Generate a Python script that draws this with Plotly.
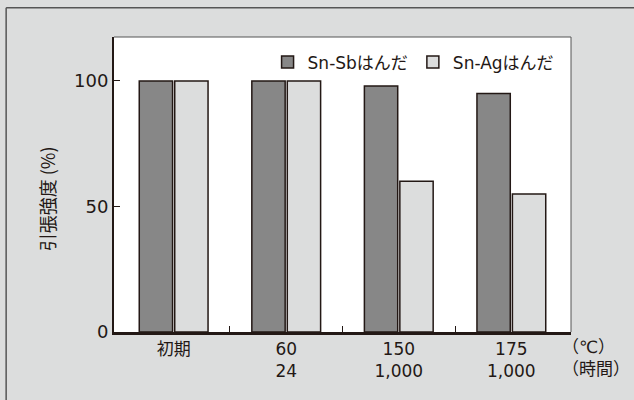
import plotly.graph_objects as go

# Test conditions: temperature (°C) / duration (hours)
categories = ["初期", "60<br>24", "150<br>1,000", "175<br>1,000"]
sn_sb = [100, 100, 98, 95]   # Sn-Sb solder, tensile strength retention (%)
sn_ag = [100, 100, 60, 55]   # Sn-Ag solder, tensile strength retention (%)
y_ticks = [0, 50, 100]

FONT = "'DejaVu Sans', 'Noto Sans CJK JP', sans-serif"
INK = "#231815"
x_pos = list(range(len(categories)))

fig = go.Figure()
fig.add_trace(go.Bar(
    x=x_pos, y=sn_sb, name="Sn-Sbはんだ",
    marker=dict(color="#878787", line=dict(color=INK, width=1.5)),
))
fig.add_trace(go.Bar(
    x=x_pos, y=sn_ag, name="Sn-Agはんだ",
    marker=dict(color="#dcdddd", line=dict(color=INK, width=1.5)),
))

fig.update_layout(
    width=634, height=400,
    margin=dict(l=114, r=63, t=37, b=68),
    paper_bgcolor="#dcdddd",
    plot_bgcolor="#ffffff",
    barmode="group", bargap=0.37, bargroupgap=0.06,
    font=dict(family=FONT, color=INK, size=17),
    showlegend=True,
    legend=dict(
        orientation="h", x=0.975, xanchor="right", y=0.975, yanchor="top",
        bgcolor="rgba(0,0,0,0)", font=dict(family=FONT, size=17, color=INK),
        itemwidth=30, tracegroupgap=0, itemclick=False,
    ),
    xaxis=dict(
        range=[-0.53, len(categories) - 0.47],
        tickmode="array", tickvals=x_pos, ticktext=categories,
        ticks="", showgrid=False, zeroline=False,
        showline=True, linecolor=INK, linewidth=2.6,
        tickfont=dict(family=FONT, size=17, color=INK),
        minor=dict(tickmode="array",
                   tickvals=[i + 0.5 for i in x_pos[:-1]],
                   ticks="inside", ticklen=6, tickcolor=INK, tickwidth=1,
                   showgrid=False),
    ),
    yaxis=dict(
        range=[0, 117.5],
        tickmode="array", tickvals=y_ticks,
        ticks="inside", ticklen=6, tickcolor=INK, tickwidth=1,
        showgrid=False, zeroline=False,
        showline=True, linecolor=INK, linewidth=2,
        tickfont=dict(family=FONT, size=18, color=INK),
    ),
)

# y-axis title, set a little below the middle of the axis
fig.add_annotation(
    text="引張強度 (%)", xref="paper", yref="paper",
    x=-0.1477, y=0.4515, xanchor="center", yanchor="middle",
    textangle=-90, showarrow=False,
    font=dict(family="'Noto Sans CJK JP'", size=18, color=INK),
)

# thin top/right border of the plotting area
fig.add_shape(type="line", xref="paper", yref="paper", x0=0, x1=1, y0=1, y1=1,
              line=dict(color="#555555", width=1), layer="above")
fig.add_shape(type="line", xref="paper", yref="paper", x0=1, x1=1, y0=0, y1=1,
              line=dict(color="#555555", width=1), layer="above")
# outer frame (left and top edges)
fig.add_shape(type="line", xref="paper", yref="paper",
              x0=-0.236, x1=-0.236, y0=1.099, y1=-0.3,
              line=dict(color="#555555", width=1.5), layer="above")
fig.add_shape(type="line", xref="paper", yref="paper",
              x0=-0.236, x1=1.138, y0=1.099, y1=1.099,
              line=dict(color="#555555", width=1.5), layer="above")

# units for the two rows of x labels
fig.add_annotation(
    text="（℃）<br>（時間）", xref="paper", yref="paper",
    x=0.975, y=0, xanchor="left", yanchor="top", yshift=-3,
    align="left", showarrow=False,
    font=dict(family=FONT, size=17, color=INK),
)

fig.write_html("out.html")
